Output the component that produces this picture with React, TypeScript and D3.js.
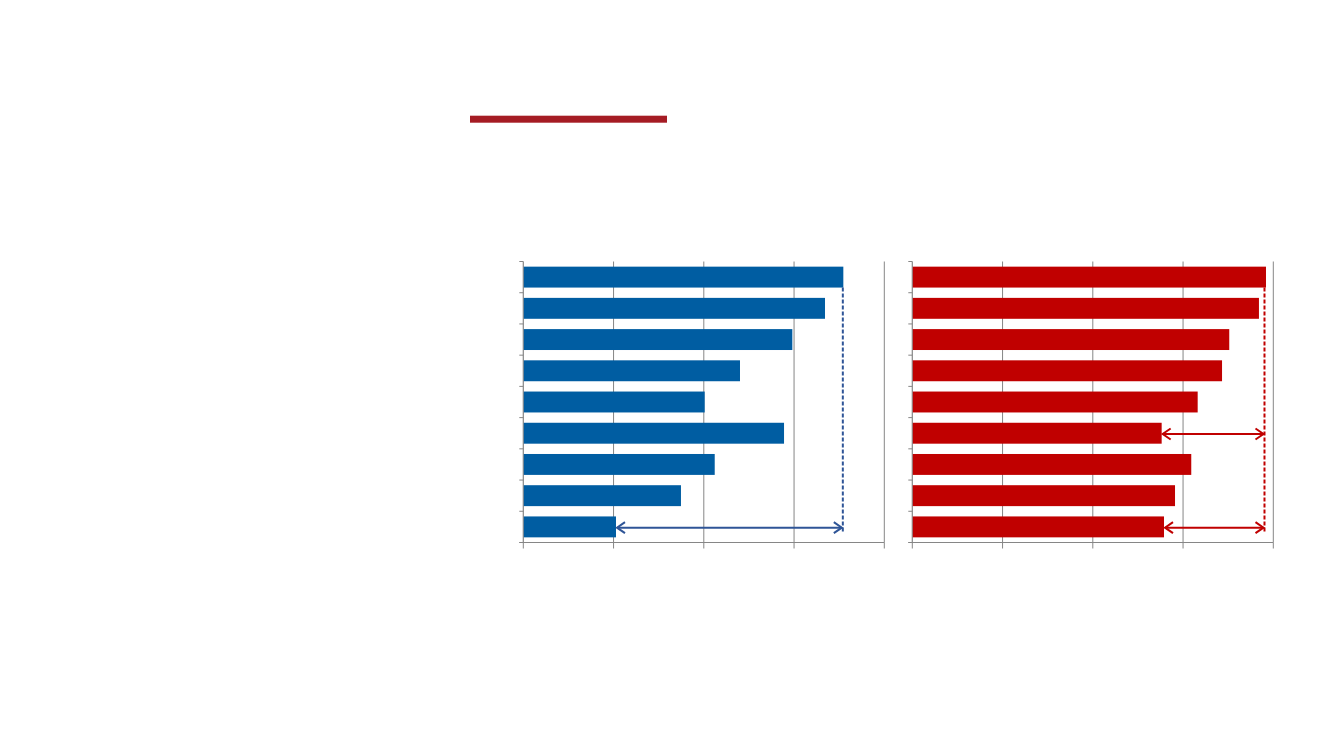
import React from "react";
import * as d3 from "d3";

const categories = ["C1", "C2", "C3", "C4", "C5", "C6", "C7", "C8", "C9"];
const leftValues = [3.546, 3.343, 2.981, 2.401, 2.01, 2.889, 2.121, 1.747, 1.027];
const rightValues = [3.919, 3.841, 3.512, 3.432, 3.162, 2.763, 3.091, 2.911, 2.789];
const xTicks = [0, 1, 2, 3, 4];
const leftArrowRows = ["C9"];
const rightArrowRows = ["C6", "C9"];

const W = 1333;
const H = 750;
const TOP = 261.5;
const BOTTOM = 542.5;

function Panel({ x0, x1, values, color, lineColor, arrowRows, refX }: any) {
  const x = d3.scaleLinear().domain([0, 4]).range([x0, x1]);
  const y = d3
    .scaleBand<string>()
    .domain(categories)
    .range([TOP, BOTTOM])
    .paddingInner(0.33)
    .paddingOuter(0.165);
  const step = y.step();
  const bw = y.bandwidth();
  const refPx = refX(x);
  const firstBottom = (y(categories[0]) as number) + bw;
  const lastCenter = (y(categories[categories.length - 1]) as number) + bw / 2 + 0.8;
  const axisColor = "#868686";
  const head = 9;
  const hw = 5.5;
  return (
    <g>
      {xTicks.slice(1).map((t) => (
        <line key={"g" + t} x1={x(t)} x2={x(t)} y1={TOP} y2={BOTTOM} stroke={axisColor} strokeWidth={1} />
      ))}
      {xTicks.map((t) => (
        <line key={"xt" + t} x1={x(t)} x2={x(t)} y1={BOTTOM} y2={BOTTOM + 6} stroke={axisColor} strokeWidth={1} />
      ))}
      <line x1={x0} x2={x0} y1={TOP} y2={BOTTOM} stroke={axisColor} strokeWidth={1.2} />
      {d3.range(categories.length + 1).map((i) => (
        <line key={"yt" + i} x1={x0 - 4} x2={x0} y1={TOP + i * step} y2={TOP + i * step} stroke={axisColor} strokeWidth={1} />
      ))}
      <line x1={x0 - 4} x2={x1} y1={BOTTOM} y2={BOTTOM} stroke={axisColor} strokeWidth={1.2} />
      {categories.map((c, i) => (
        <rect key={c} x={x(0) + 0.5} y={y(c)} width={x(values[i]) - x(0) - 0.5} height={bw} fill={color} />
      ))}
      <line
        x1={refPx}
        x2={refPx}
        y1={firstBottom}
        y2={lastCenter + 4}
        stroke={lineColor}
        strokeWidth={2}
        strokeDasharray="4,2"
      />
      {arrowRows.map((c: string) => {
        const i = categories.indexOf(c);
        const cy = (y(c) as number) + bw / 2 + 0.8;
        const sx = x(values[i]);
        const ex = refPx;
        return (
          <g key={"a" + c} stroke={lineColor} strokeWidth={2} fill="none">
            <line x1={sx + 1} x2={ex - 1} y1={cy} y2={cy} />
            <polyline points={`${sx + head},${cy - hw} ${sx + 1},${cy} ${sx + head},${cy + hw}`} />
            <polyline points={`${ex - head},${cy - hw} ${ex - 1},${cy} ${ex - head},${cy + hw}`} />
          </g>
        );
      })}
    </g>
  );
}

export default function App() {
  return (
    <svg width={W} height={H} style={{ position: "absolute", left: 0, top: 0, background: "#fff" }}>
      <rect x={470} y={115.7} width={197} height={7} fill="#A51C24" />
      <Panel
        x0={523.3}
        x1={884.3}
        values={leftValues}
        color="#005DA2"
        lineColor="#2F5597"
        arrowRows={leftArrowRows}
        refX={(x: any) => x(leftValues[0]) - 0.5}
      />
      <Panel
        x0={912.3}
        x1={1273.3}
        values={rightValues}
        color="#C00000"
        lineColor="#C00000"
        arrowRows={rightArrowRows}
        refX={(x: any) => x(rightValues[0]) - 1.5}
      />
    </svg>
  );
}
